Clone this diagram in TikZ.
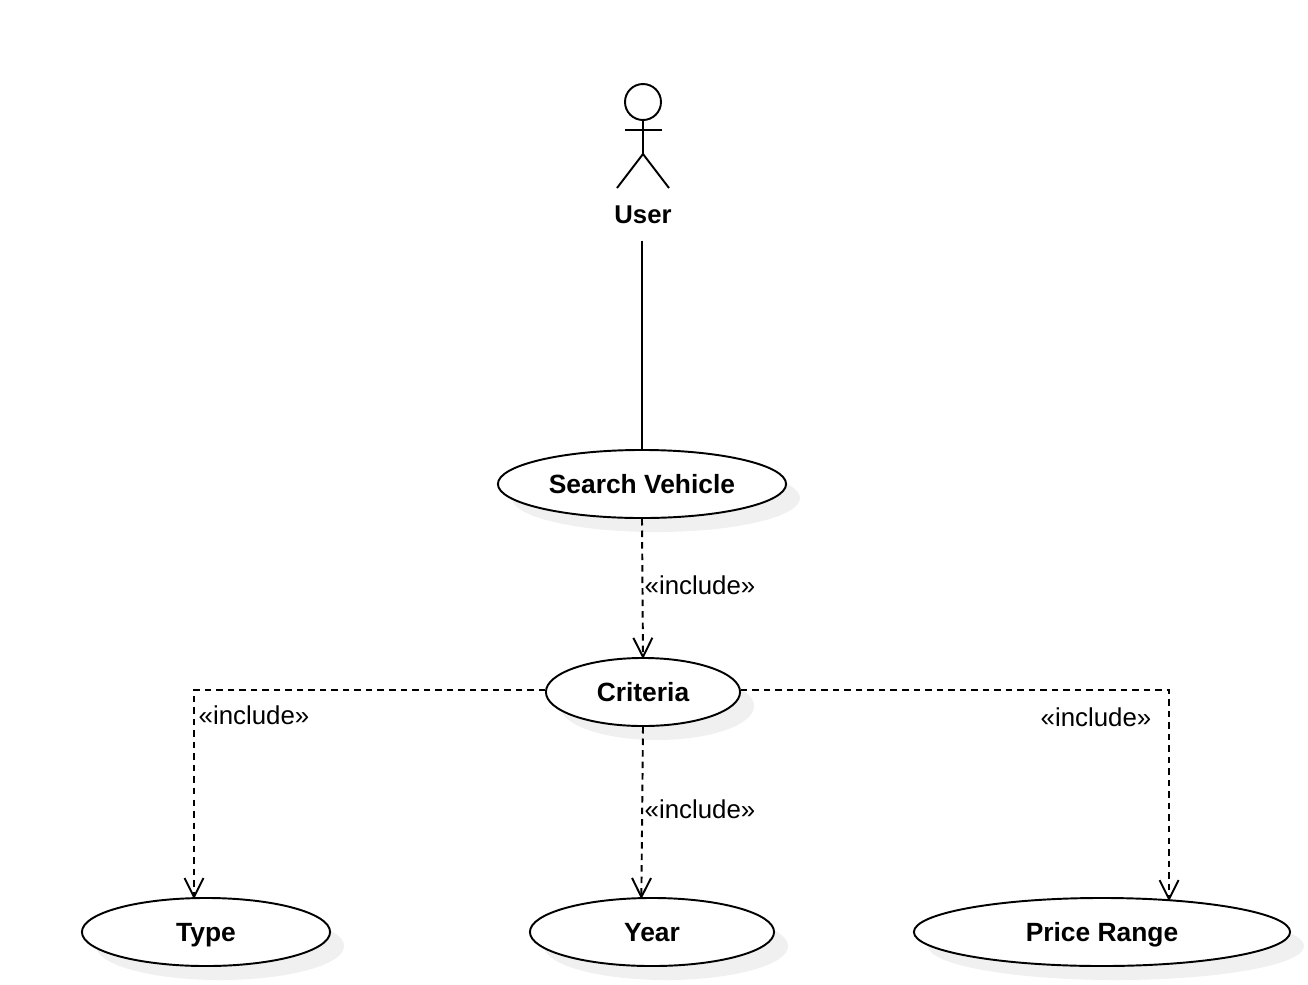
\documentclass[tikz,border=0pt]{standalone}
\usepackage{fontspec}
\setmainfont{Liberation Sans}
\usetikzlibrary{arrows.meta,shapes.geometric,shadows}
\tikzset{
  usecase/.style={ellipse,draw,line width=0.55pt,fill=white,inner sep=0pt,minimum height=0.68cm,
    text height=0.24cm,text depth=0.054cm,
    font=\fontsize{7.5pt}{9pt}\selectfont\bfseries,
    drop shadow={shadow xshift=0.14cm,shadow yshift=-0.14cm,fill=black!6,opacity=1}},
  includelabel/.style={font=\fontsize{7.35pt}{9pt}\selectfont,inner sep=0pt},
  includeline/.style={line width=0.55pt,dash pattern=on 0.065cm off 0.05cm,shorten >=-0.02cm,-{Straight Barb[length=0.19cm,width=0.19cm,line width=0.55pt]}},
}
\begin{document}
\begin{tikzpicture}[x=0.01cm,y=-0.01cm]
  \useasboundingbox (0,0) rectangle (1308,984);
  \draw[line width=0.55pt] (643,102) circle (18);
  \draw[line width=0.55pt] (643,120)--(643,154);
  \draw[line width=0.55pt] (625,130)--(662,130);
  \draw[line width=0.55pt] (617,188)--(643,154)--(669,188);
  \node[font=\fontsize{7.3pt}{9pt}\selectfont\bfseries,minimum height=0.5cm,inner sep=0pt] (user) at (643,215) {User};
  \node[usecase,minimum width=2.88cm] (search) at (642,484) {Search Vehicle};
  \node[usecase,minimum width=1.94cm] (criteria) at (643,692) {Criteria};
  \node[usecase,minimum width=2.48cm] (type) at (206,932) {Type};
  \node[usecase,minimum width=2.44cm] (year) at (652,932) {Year};
  \node[usecase,minimum width=3.76cm] (price) at (1102,932) {Price Range};
  \draw[line width=0.55pt] (user.south -| search.north)--(search.north);
  \draw[includeline] (search.south)--(criteria.north);
  \draw[includeline] (criteria.179) -| (type.109);
  \draw[includeline] (criteria.270) -- (year.107);
  \draw[includeline] (criteria.1) -| (price.26);
  \node[includelabel] (incsearch) at (700,585) {«include»};
  \node[includelabel] (inctype) at (254,715) {«include»};
  \node[includelabel] (incyear) at (700,809) {«include»};
  \node[includelabel] (incprice) at (1096,717) {«include»};
\end{tikzpicture}
\end{document}
